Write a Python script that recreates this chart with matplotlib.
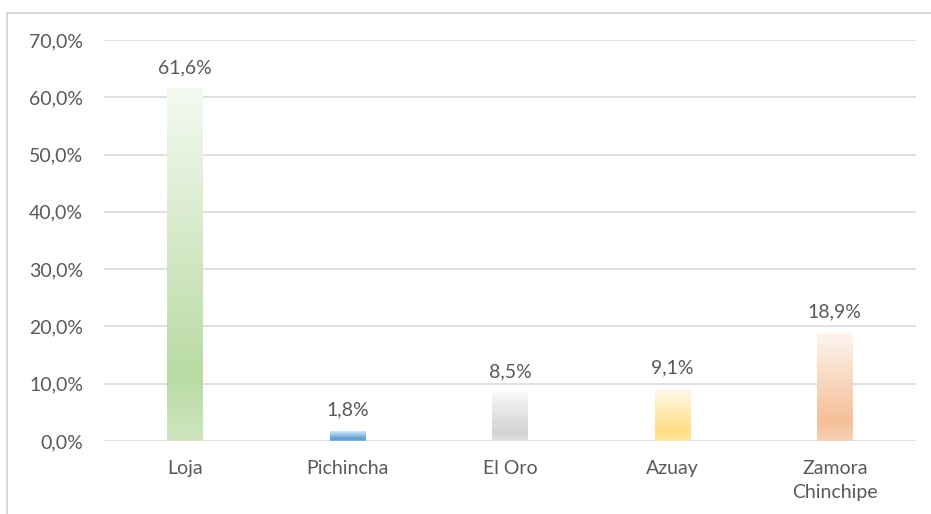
import numpy as np
import matplotlib
matplotlib.use("Agg")
import matplotlib.pyplot as plt
from matplotlib.colors import LinearSegmentedColormap, to_rgb
from matplotlib.lines import Line2D

categories = ["Loja", "Pichincha", "El Oro", "Azuay", "Zamora\nChinchipe"]
values = [61.6, 1.8, 8.5, 9.1, 18.9]
labels = ["61,6%", "1,8%", "8,5%", "9,1%", "18,9%"]
yticks = [0, 10, 20, 30, 40, 50, 60, 70]
ytick_labels = ["0,0%", "10,0%", "20,0%", "30,0%", "40,0%", "50,0%", "60,0%", "70,0%"]
base_colors = ["#b9dba3", "#5b9bd5", "#d3d3d3", "#ffde84", "#f5bf98"]

plt.rcParams['font.family'] = ['Lato', 'DejaVu Sans']
text_color = "#595959"
fs = 14


def mix(c, w):
    r = np.array(to_rgb(c))
    return tuple(r + (1 - r) * w)


fig = plt.figure(figsize=(9.31, 5.14), dpi=100)
ax = fig.add_axes([104/931, 1 - 441/514, (916-104)/931, (441-40)/514])
ax.set_xlim(-0.5, len(categories) - 0.5)
ax.set_ylim(0, 70)

for y in yticks:
    ax.axhline(y, color="#d9d9d9", lw=1.2, zorder=0)

width = 0.22
for i, (v, c) in enumerate(zip(values, base_colors)):
    bars = ax.bar(i, v, width=width, color="none", edgecolor="none", zorder=2)
    rect = bars[0]
    cmap = LinearSegmentedColormap.from_list(
        "g", [(0.0, mix(c, 0.3)), (0.18, c), (1.0, mix(c, 0.85))])
    grad = np.linspace(0, 1, 256).reshape(-1, 1)
    im = ax.imshow(grad, cmap=cmap, vmin=0, vmax=1, aspect="auto",
                   extent=[i - width/2, i + width/2, 0, v], origin="lower", zorder=2)
    im.set_clip_path(rect)
    ax.text(i, v + 2.1, labels[i], ha="center", va="bottom",
            fontsize=fs, color=text_color)

ax.set_xlim(-0.5, len(categories) - 0.5)
ax.set_ylim(0, 70)
ax.set_yticks(yticks)
ax.set_yticklabels(ytick_labels, fontsize=fs, color=text_color)
ax.set_xticks(range(len(categories)))
ax.set_xticklabels(categories, fontsize=fs, color=text_color, linespacing=1.55)
ax.tick_params(axis="both", length=0)
ax.tick_params(axis="y", pad=15)
ax.tick_params(axis="x", pad=13.5)
for s in ax.spines.values():
    s.set_visible(False)

# chart border (top and left visible)
fig.add_artist(Line2D([7/931, 1.0], [1 - 13/514, 1 - 13/514], color="#d9d9d9", lw=1.5,
                      transform=fig.transFigure))
fig.add_artist(Line2D([7/931, 7/931], [0, 1 - 13/514], color="#d9d9d9", lw=1.5,
                      transform=fig.transFigure))

fig.savefig("out.png", dpi=100)
